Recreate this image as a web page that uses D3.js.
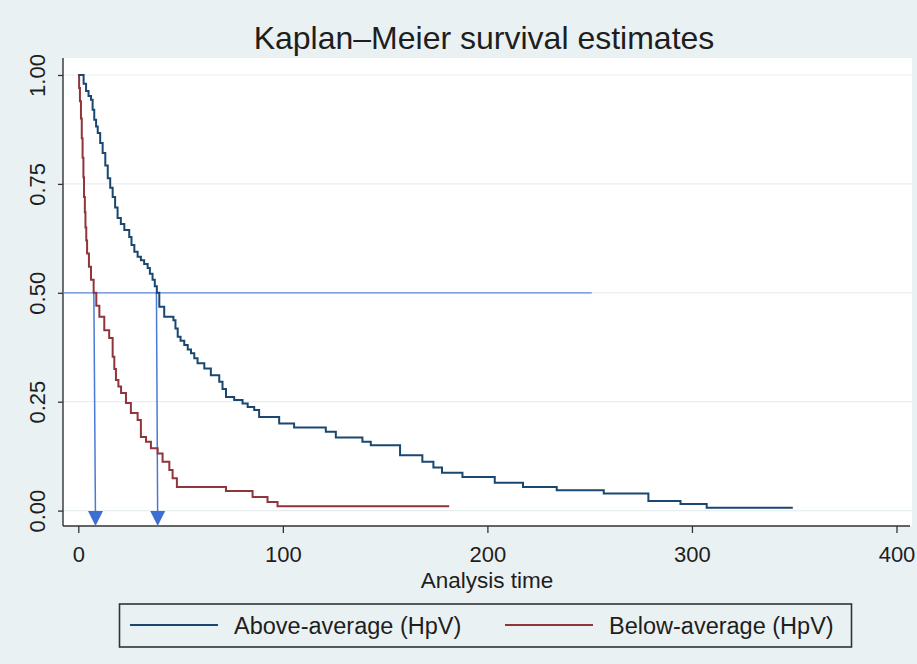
<!DOCTYPE html>
<html>
<head>
<meta charset="utf-8">
<script src="https://cdn.jsdelivr.net/npm/d3@7"></script>
<style>
  body { margin: 0; background: #eaf1f2; }
  text { font-family: "Liberation Sans", Arial, sans-serif; fill: #1e1e1e; }
</style>
</head>
<body>
<div id="chart"></div>
<script>
// survival steps (time, survival)
var aboveTime = [0, 2.6, 3.8, 5, 6.2, 7, 7.8, 8.7, 9.5, 10.7, 11.9, 13.2, 14.4, 15.6, 16.8, 18, 19.2, 20.8, 22.5, 24.9,
  26, 27.4, 29, 30.6, 32.2, 33.9, 35, 36.3, 37.4, 38.4, 39.6, 42, 46.5, 47.5, 48.6, 50, 51.8, 53.5, 55.1, 56.7,
  58.3, 61.6, 64.8, 68.9, 70.5, 72.2, 76.2, 80.3, 82.8, 86, 88.4, 98.2, 105.5, 121, 125.9, 138.9, 143, 157.3, 168.2, 173.6,
  177.8, 187.8, 203.6, 217.4, 233.9, 256.9, 278.7, 294.4, 307.2, 349.3];
var aboveSurv = [1, 0.98, 0.963, 0.952, 0.943, 0.92, 0.897, 0.882, 0.867, 0.844, 0.821, 0.792, 0.763, 0.741, 0.72, 0.696, 0.672, 0.658, 0.644, 0.628,
  0.61, 0.594, 0.583, 0.575, 0.566, 0.557, 0.544, 0.53, 0.515, 0.5, 0.468, 0.445, 0.437, 0.418, 0.399, 0.39, 0.38, 0.37, 0.361, 0.35,
  0.338, 0.326, 0.311, 0.296, 0.279, 0.261, 0.254, 0.246, 0.238, 0.231, 0.215, 0.2, 0.191, 0.181, 0.168, 0.158, 0.15, 0.127, 0.112, 0.099,
  0.087, 0.077, 0.064, 0.054, 0.047, 0.039, 0.022, 0.015, 0.0065, 0.0065];

var belowTime = [0, 0.4, 0.8, 1.3, 1.7, 2.1, 2.5, 2.8, 3.2, 3.5, 3.9, 4.3, 5.2, 6.2, 7.5, 8.8, 10.3, 12.7, 15.1, 16.8,
  17.6, 18.4, 19.6, 20.9, 23.3, 25.7, 29, 30.6, 33.1, 35.5, 38.8, 41.2, 44.5, 46.1, 48.2, 72.2, 85.2, 92.5, 97.4, 181.3];
var belowSurv = [1, 0.97, 0.94, 0.9, 0.855, 0.81, 0.765, 0.72, 0.685, 0.65, 0.62, 0.59, 0.56, 0.53, 0.5, 0.47, 0.445, 0.414, 0.396, 0.353,
  0.325, 0.3, 0.285, 0.27, 0.247, 0.224, 0.208, 0.169, 0.158, 0.143, 0.131, 0.112, 0.093, 0.074, 0.054, 0.045, 0.031, 0.02, 0.0101, 0.0101];

// median marks: horizontal line at 0.5 and the two arrows
var medianLevel = 0.5;
var medianLineEnd = 251;
var arrowStart = [7.6, 38.2];
var arrowEnd = [8.4, 38.8];

var yTicks = [0, 0.25, 0.5, 0.75, 1];
var xTicks = [0, 100, 200, 300, 400];
var seriesNames = ["Above-average (HpV)", "Below-average (HpV)"];
var seriesColors = ["#1a476f", "#90353b"];

var w = 917, h = 664;
var plotLeft = 63, plotRight = 912, plotTop = 58, plotBottom = 526;

var xScale = d3.scaleLinear().domain([0, 400]).range([78.3, 896.5]);
var yScale = d3.scaleLinear().domain([0, 1]).range([510.6, 75]);

const chart = d3.select("#chart")
  .append("svg")
  .attr("width", w)
  .attr("height", h);

chart.append("rect")
  .attr("width", w).attr("height", h)
  .attr("fill", "#eaf1f2");

// plot region
chart.append("rect")
  .attr("x", plotLeft).attr("y", plotTop)
  .attr("width", plotRight - plotLeft).attr("height", plotBottom - plotTop)
  .attr("fill", "#ffffff");

chart.selectAll(".grid")
  .data(yTicks)
  .enter().append("line")
  .attr("x1", plotLeft).attr("x2", plotRight)
  .attr("y1", d => yScale(d)).attr("y2", d => yScale(d))
  .attr("stroke", "#e7eff0")
  .attr("stroke-width", 1.2);

chart.append("text")
  .attr("x", 484).attr("y", 49)
  .attr("text-anchor", "middle")
  .style("font-size", "32px")
  .attr("fill", "#2a2a2a")
  .text("Kaplan\u2013Meier survival estimates");

drawAxis();

// median reference line and arrows
chart.append("line")
  .attr("x1", plotLeft).attr("x2", xScale(medianLineEnd))
  .attr("y1", yScale(medianLevel)).attr("y2", yScale(medianLevel))
  .attr("stroke", "#5b8ad8")
  .attr("stroke-width", 1.3);

arrowStart.forEach(function(t, i) {
  var xe = xScale(arrowEnd[i]);
  chart.append("line")
    .attr("x1", xScale(t)).attr("y1", yScale(medianLevel))
    .attr("x2", xe).attr("y2", plotBottom - 6)
    .attr("stroke", "#4a7ad6")
    .attr("stroke-width", 1.5);
  chart.append("path")
    .attr("d", "M" + (xe - 7.5) + "," + (plotBottom - 15) + "L" + (xe + 7.5) + "," + (plotBottom - 15) + "L" + xe + "," + plotBottom + "Z")
    .attr("fill", "#3d6fd2");
});

drawData(belowTime, belowSurv, seriesColors[1]);
drawData(aboveTime, aboveSurv, seriesColors[0]);

drawLegend();

function drawAxis() {
  var yAxis = d3.axisLeft(yScale)
    .tickValues(yTicks)
    .tickFormat(d3.format(".2f"))
    .tickSize(5)
    .tickSizeOuter(0);

  var gy = chart.append("g")
    .attr("transform", "translate(" + plotLeft + ",0)")
    .call(yAxis);
  gy.select(".domain").remove();
  gy.selectAll("line").attr("stroke", "#333").attr("stroke-width", 1.3);
  gy.selectAll("text")
    .attr("transform", "rotate(-90)")
    .attr("x", 0).attr("y", -18).attr("dy", null)
    .attr("text-anchor", "middle")
    .style("font-size", "22px")
    .attr("fill", "#1e1e1e");

  var xAxis = d3.axisBottom(xScale)
    .tickValues(xTicks)
    .tickSize(7)
    .tickPadding(13)
    .tickSizeOuter(0);

  var gx = chart.append("g")
    .attr("transform", "translate(0," + plotBottom + ")")
    .call(xAxis);
  gx.select(".domain").remove();
  gx.selectAll("line").attr("stroke", "#333").attr("stroke-width", 1.3);
  gx.selectAll("text")
    .style("font-size", "22px")
    .attr("fill", "#1e1e1e");

  // axis lines along the plot region edges
  chart.append("line")
    .attr("x1", plotLeft).attr("x2", plotLeft)
    .attr("y1", plotTop).attr("y2", plotBottom)
    .attr("stroke", "#333").attr("stroke-width", 1.4);
  chart.append("line")
    .attr("x1", plotLeft).attr("x2", plotRight - 2)
    .attr("y1", plotBottom).attr("y2", plotBottom)
    .attr("stroke", "#333").attr("stroke-width", 1.4);

  chart.append("text")
    .attr("x", 487).attr("y", 588)
    .attr("text-anchor", "middle")
    .style("font-size", "22.5px")
    .text("Analysis time");
}

function drawData(times, surv, color) {
  var pts = times.map(function(t, i) { return [t, surv[i]]; });
  chart.append("path")
    .datum(pts)
    .attr("fill", "none")
    .attr("stroke", color)
    .attr("stroke-width", 2)
    .attr("d", d3.line()
      .curve(d3.curveStepAfter)
      .x(function(d) { return xScale(d[0]); })
      .y(function(d) { return yScale(d[1]); })
    );
}

function drawLegend() {
  var lg = chart.append("g");
  lg.append("rect")
    .attr("x", 119.5).attr("y", 604)
    .attr("width", 732).attr("height", 43)
    .attr("fill", "none")
    .attr("stroke", "#333")
    .attr("stroke-width", 1.6);

  var lineX = [130, 505];
  seriesNames.forEach(function(name, i) {
    lg.append("line")
      .attr("x1", lineX[i]).attr("x2", lineX[i] + 88)
      .attr("y1", 625).attr("y2", 625)
      .attr("stroke", seriesColors[i])
      .attr("stroke-width", 2);
    lg.append("text")
      .attr("x", lineX[i] + 104).attr("y", 633.5)
      .style("font-size", "23.5px")
      .text(name);
  });
}
</script>
</body>
</html>
